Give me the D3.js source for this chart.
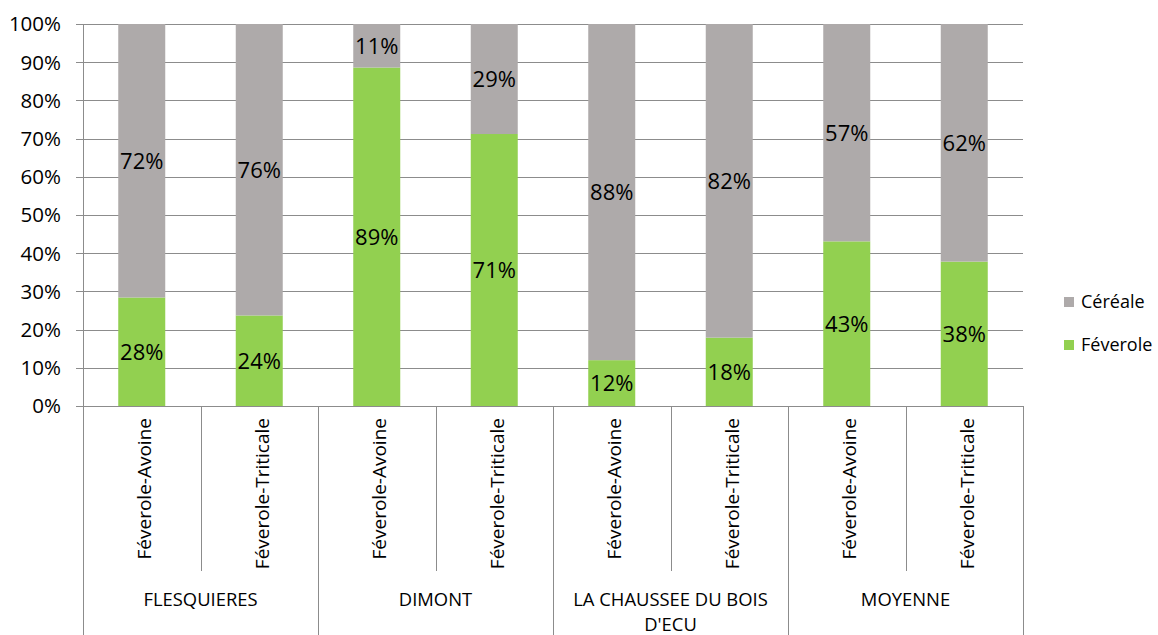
<!DOCTYPE html>
<html><head><meta charset="utf-8">
<script src="https://cdn.jsdelivr.net/npm/d3@7"></script>
<style>body{margin:0;background:#fff}svg{display:block}text{font-family:"Open Sans","Noto Sans",sans-serif;fill:#000}</style>
</head><body>
<script>
const groups = ["FLESQUIERES","DIMONT","LA CHAUSSEE DU BOIS\nD'ECU","MOYENNE"];
const subcats = ["Féverole-Avoine","Féverole-Triticale"];
const feverole = [28.4, 23.7, 88.6, 71.2, 12.0, 17.9, 43.1, 37.8];
const cereale  = [71.6, 76.3, 11.4, 28.8, 88.0, 82.1, 56.9, 62.2];
const seriesNames = ["Céréale","Féverole"];
const colors = {"Féverole":"#92D050","Céréale":"#AEAAAA"};
const yTicks = [0,10,20,30,40,50,60,70,80,90,100];

const W=1158,H=635, L=83, R=1023, T=24, B=406;
const svg=d3.select("body").append("svg").attr("width",W).attr("height",H);
const rows = [];
groups.forEach((g,gi)=>subcats.forEach((s,si)=>rows.push({key:gi+"-"+si,g,s,idx:gi*2+si})));
const x=d3.scaleBand().domain(rows.map(r=>r.key)).range([L,R]).paddingInner(0.6).paddingOuter(0.3);
const xs=d3.scaleBand().domain(rows.map(r=>r.key)).range([L,R]);
const y=d3.scaleLinear().domain([0,100]).range([B,T]);

// gridlines
svg.append("g").selectAll("line").data(yTicks).join("line")
 .attr("x1",L-7).attr("x2",R).attr("y1",d=>Math.round(y(d))+0.5).attr("y2",d=>Math.round(y(d))+0.5)
 .attr("stroke","#8C8C8C").attr("stroke-width",1);
// y labels
svg.append("g").selectAll("text").data(yTicks).join("text")
 .attr("x",61).attr("y",d=>y(d)).attr("dy","0.36em").attr("text-anchor","end")
 .attr("font-size",20.5).text(d=>d+"%");

// bars
const bars=svg.append("g");
rows.forEach(r=>{
  const f=feverole[r.idx], c=cereale[r.idx];
  bars.append("rect").attr("x",x(r.key)).attr("width",x.bandwidth()).attr("y",y(f)).attr("height",y(0)-y(f)).attr("fill",colors["Féverole"]);
  bars.append("rect").attr("x",x(r.key)).attr("width",x.bandwidth()).attr("y",y(f+c)).attr("height",y(f)-y(f+c)).attr("fill",colors["Céréale"]);
  bars.append("text").attr("x",x(r.key)+x.bandwidth()/2).attr("y",(y(0)+y(f))/2).attr("dy","0.36em").attr("text-anchor","middle").attr("font-size",22).text(Math.round(f)+"%");
  bars.append("text").attr("x",x(r.key)+x.bandwidth()/2).attr("y",(y(f)+y(f+c))/2).attr("dy","0.36em").attr("text-anchor","middle").attr("font-size",22).text(Math.round(c)+"%");
});

// axes lines
svg.append("line").attr("x1",L+0.5).attr("x2",L+0.5).attr("y1",T).attr("y2",H).attr("stroke","#8C8C8C");
rows.forEach((r,i)=>{
  if(i===0) return;
  const xx=Math.round(xs(r.key))+0.5;
  svg.append("line").attr("x1",xx).attr("x2",xx).attr("y1",B).attr("y2",i%2===0?H:571).attr("stroke","#8C8C8C");
});
svg.append("line").attr("x1",R+0.5).attr("x2",R+0.5).attr("y1",B).attr("y2",H).attr("stroke","#8C8C8C");

// subcat labels
rows.forEach(r=>{
  const cx=xs(r.key)+xs.bandwidth()/2;
  svg.append("text").attr("transform",`translate(${cx+3},418) rotate(-90)`).attr("dy","0.35em").attr("text-anchor","end").attr("font-size",19).text(r.s);
});
// group labels
groups.forEach((g,gi)=>{
  const cx=(xs(gi+"-0")+xs(gi+"-1")+xs.bandwidth())/2;
  const lines=g.split("\n");
  lines.forEach((ln,li)=>svg.append("text").attr("x",cx).attr("y",600+li*25).attr("dy","0.35em").attr("text-anchor","middle").attr("font-size",18.4).text(ln));
});

// legend
seriesNames.forEach((s,i)=>{
  const yy=302+i*43;
  svg.append("rect").attr("x",1064).attr("y",yy-5).attr("width",10).attr("height",10).attr("fill",colors[s]);
  svg.append("text").attr("x",1081).attr("y",yy).attr("dy","0.35em").attr("font-size",18).text(s);
});
</script>
</body></html>
